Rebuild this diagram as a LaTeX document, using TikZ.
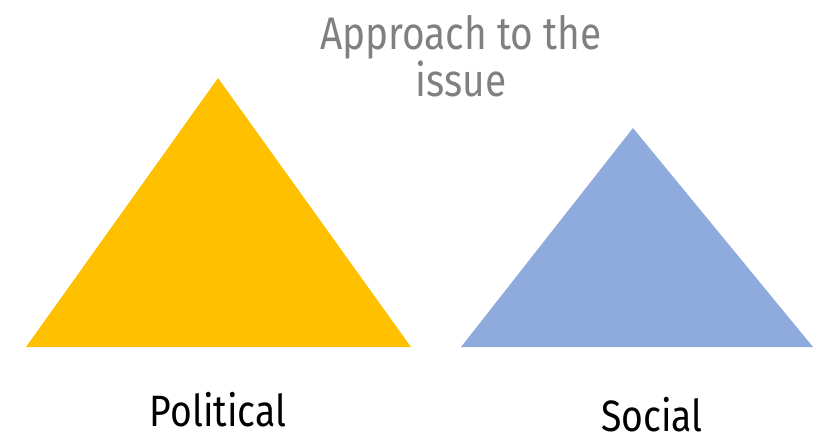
\documentclass[tikz,border=0pt]{standalone}
\usepackage{fontspec}
\setmainfont{Fira Sans}[FakeStretch=0.85]
\usetikzlibrary{positioning}
\definecolor{polyellow}{HTML}{FFC000}
\definecolor{socblue}{HTML}{8FAADC}
\definecolor{titlegray}{HTML}{808080}
\begin{document}
\begin{tikzpicture}[x=0.02cm,y=-0.02cm]
% Bounding box
\useasboundingbox (0,0) rectangle (825,437);

\tikzstyle{title} = [text=titlegray, font=\fontsize{26}{27}\selectfont, align=center, inner sep=0pt]
\tikzstyle{lbl} = [text=black, font=\fontsize{25}{27}\selectfont, inner sep=0pt]

\node at (461,56) [title] (approach) {Approach to the\\issue};

% Political triangle
\coordinate (ptop) at (218,78);
\coordinate (pleft) at (26,347);
\coordinate (pright) at (411,347);
\fill[polyellow] (ptop) -- (pleft) -- (pright) -- cycle;

% Social triangle
\coordinate (stop) at (633,128);
\coordinate (sleft) at (461,347);
\coordinate (sright) at (813,347);
\fill[socblue] (stop) -- (sleft) -- (sright) -- cycle;

\node at (218,410) [lbl] (political) {Political};
\node at (652,415) [lbl] (social) {Social};
\end{tikzpicture}
\end{document}
